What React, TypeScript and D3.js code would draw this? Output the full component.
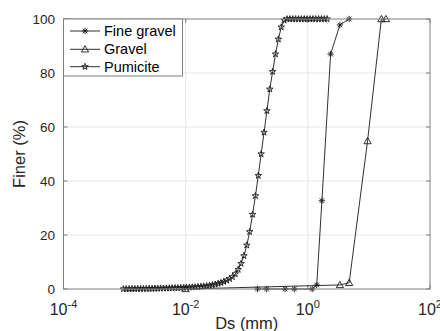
import React from 'react';
import * as d3 from 'd3';

const pumiciteD = [
  0.000955, 0.001064, 0.001186, 0.001321, 0.001472, 0.001641, 0.001828, 0.002037, 0.00227, 0.002529,
  0.002818, 0.003141, 0.003499, 0.003899, 0.004345, 0.004842, 0.005395, 0.006012, 0.006699, 0.007464,
  0.008318, 0.009268, 0.01033, 0.01151, 0.01282, 0.01429, 0.01592, 0.01774, 0.01977, 0.02203,
  0.02455, 0.02735, 0.03048, 0.03396, 0.03784, 0.04217, 0.04699, 0.05236, 0.05834, 0.06501,
  0.07244, 0.08072, 0.08995, 0.1002, 0.1117, 0.1245, 0.1387, 0.1545, 0.1722, 0.1919,
  0.2138, 0.2382, 0.2655, 0.2958, 0.3296, 0.3673, 0.4093, 0.456, 0.5082, 0.5662,
  0.631, 0.7031, 0.7834, 0.873, 0.9727, 1.084, 1.208, 1.346, 1.5, 1.671,
  1.862, 2.075,
];
const pumiciteF = [
  0, 0, 0, 0.05, 0.05, 0.1, 0.1, 0.1, 0.1, 0.15,
  0.15, 0.2, 0.2, 0.25, 0.25, 0.3, 0.3, 0.35, 0.4, 0.4,
  0.45, 0.5, 0.55, 0.6, 0.65, 0.7, 0.8, 0.9, 1.0, 1.1,
  1.3, 1.5, 1.7, 2.0, 2.3, 2.7, 3.2, 3.8, 4.5, 5.6,
  7.2, 9.4, 12.3, 16.2, 21.2, 27.6, 34.5, 42, 50, 58,
  66, 74, 80.5, 87, 92.5, 97, 99.5, 100, 100, 100,
  100, 100, 100, 100, 100, 100, 100, 100, 100, 100,
  100, 100,
];
const fineGravelD = [0.15, 0.212, 0.425, 0.6, 1.18, 1.4, 1.7, 2.36, 3.35, 4.75];
const fineGravelF = [0, 0, 0, 0, 0, 1.5, 32.7, 87, 97.8, 100];
const gravelD = [0.01, 3.35, 4.75, 9.5, 16, 19];
const gravelF = [0, 1.5, 2.3, 54.8, 100, 100];

const xTicks = [1e-4, 1e-2, 1, 1e2];
const xTickExp = ['-4', '-2', '0', '2'];
const yTicks = [0, 20, 40, 60, 80, 100];
const seriesNames = ['Fine gravel', 'Gravel', 'Pumicite'];

const W = 440, H = 331;
const L = 63.5, R = 430, T = 19, B = 289;
const FONT = "'Liberation Sans', Arial, Helvetica, sans-serif";
const LINE = '#1a1a1a';
const AX = '#7f7f7f';

const x = d3.scaleLog().domain([1e-4, 1e2]).range([L, R]);
const y = d3.scaleLinear().domain([0, 100]).range([B, T]);

type MarkerKind = 'star' | 'tri' | 'pent';

function Marker({ kind, cx, cy }: { kind: MarkerKind; cx: number; cy: number }) {
  if (kind === 'star') {
    const r = 3.2;
    const d = r * 0.72;
    return (
      <g stroke={LINE} strokeWidth={0.9}>
        <line x1={cx - r} y1={cy} x2={cx + r} y2={cy} />
        <line x1={cx} y1={cy - r} x2={cx} y2={cy + r} />
        <line x1={cx - d} y1={cy - d} x2={cx + d} y2={cy + d} />
        <line x1={cx - d} y1={cy + d} x2={cx + d} y2={cy - d} />
      </g>
    );
  }
  if (kind === 'tri') {
    const r = 3.6;
    const p = `M${cx},${cy - r} L${cx + r},${cy + r * 0.75} L${cx - r},${cy + r * 0.75} Z`;
    return <path d={p} fill="none" stroke={LINE} strokeWidth={0.9} />;
  }
  const sym = d3.symbol().type(d3.symbolStar).size(13)();
  return (
    <path
      d={sym || ''}
      transform={`translate(${cx},${cy})`}
      fill="none"
      stroke={LINE}
      strokeWidth={0.9}
    />
  );
}

function Series({ xs, ys, kind }: { xs: number[]; ys: number[]; kind: MarkerKind }) {
  const pts: [number, number][] = xs.map((d, i) => [x(d), y(ys[i])]);
  const line = d3.line()(pts) || '';
  return (
    <g>
      <path d={line} fill="none" stroke={LINE} strokeWidth={0.9} />
      {pts.map((p, i) => (
        <Marker key={i} kind={kind} cx={p[0]} cy={p[1]} />
      ))}
    </g>
  );
}

export default function App() {
  const kinds: MarkerKind[] = ['star', 'tri', 'pent'];
  const legendY = [31, 49.3, 66.7];
  return (
    <svg
      width={W}
      height={H}
      style={{ position: 'absolute', left: 0, top: 0, background: '#fff' }}
      fontFamily={FONT}
    >
      <rect x={0} y={0} width={W} height={H} fill="#fff" />
      {/* grid */}
      {xTicks.slice(1, -1).map((t) => (
        <line key={'gx' + t} x1={x(t)} x2={x(t)} y1={T} y2={B} stroke="#e6e6e6" strokeWidth={1} />
      ))}
      {yTicks.slice(1, -1).map((t) => (
        <line key={'gy' + t} x1={L} x2={R} y1={y(t)} y2={y(t)} stroke="#e6e6e6" strokeWidth={1} />
      ))}
      {/* ticks */}
      {xTicks.map((t) => (
        <g key={'tx' + t} stroke={AX} strokeWidth={1}>
          <line x1={x(t)} x2={x(t)} y1={B} y2={B - 4} />
          <line x1={x(t)} x2={x(t)} y1={T} y2={T + 4} />
        </g>
      ))}
      {yTicks.map((t) => (
        <g key={'ty' + t} stroke={AX} strokeWidth={1}>
          <line x1={L} x2={L + 4} y1={y(t)} y2={y(t)} />
          <line x1={R} x2={R - 4} y1={y(t)} y2={y(t)} />
        </g>
      ))}
      {/* series */}
      <Series xs={gravelD} ys={gravelF} kind="tri" />
      <Series xs={fineGravelD} ys={fineGravelF} kind="star" />
      <Series xs={pumiciteD} ys={pumiciteF} kind="pent" />
      {/* axes box */}
      <rect x={L} y={T} width={R - L} height={B - T} fill="none" stroke={AX} strokeWidth={1} />
      {/* tick labels */}
      {xTicks.map((t, i) => (
        <text key={'lx' + t} x={x(t)} y={315} textAnchor="middle" fontSize={16} fill="#262626">
          10
          <tspan fontSize={11} dy={-7}>{xTickExp[i]}</tspan>
        </text>
      ))}
      {yTicks.map((t) => (
        <text key={'ly' + t} x={55} y={y(t)} dy="0.35em" textAnchor="end" fontSize={13.5} fill="#262626">
          {t}
        </text>
      ))}
      <text x={(L + R) / 2} y={329} textAnchor="middle" fontSize={16.5} fill="#262626">
        Ds (mm)
      </text>
      <text
        transform={`translate(25,${(T + B) / 2}) rotate(-90)`}
        textAnchor="middle"
        fontSize={16.5}
        fill="#262626"
      >
        Finer (%)
      </text>
      {/* legend */}
      <rect x={L} y={T} width={119} height={57} fill="#fff" stroke={AX} strokeWidth={1} />
      {seriesNames.map((n, i) => (
        <g key={n}>
          <line x1={70} x2={100} y1={legendY[i]} y2={legendY[i]} stroke={LINE} strokeWidth={0.9} />
          <Marker kind={kinds[i]} cx={85} cy={legendY[i]} />
          <text x={104} y={legendY[i]} dy="0.35em" fontSize={14.5} fill="#000">
            {n}
          </text>
        </g>
      ))}
    </svg>
  );
}
